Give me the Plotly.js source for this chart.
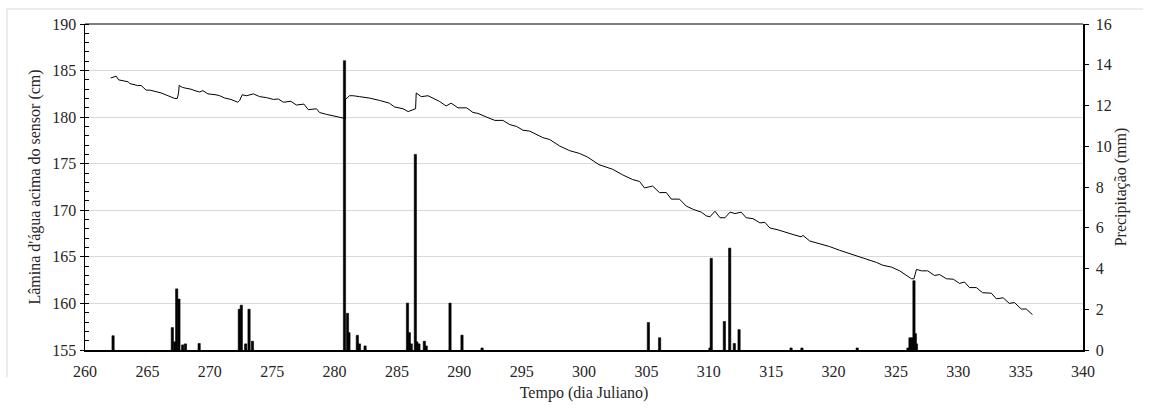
<!DOCTYPE html>
<html>
<head>
<meta charset="utf-8">
<script src="https://cdn.plot.ly/plotly-3.0.1.min.js"></script>
<style>html,body{margin:0;padding:0;background:#fff;}#chart{width:1151px;height:412px;}</style>
</head>
<body>
<div id="chart"></div>
<script>
// Water level above sensor (cm) by Julian day
const levelDay = [
  262.06, 262.3, 262.5, 262.7, 263.0, 263.45, 263.6, 263.85, 264.2, 264.5,
  264.9, 265.2, 265.6, 266.1, 266.65, 267.0, 267.2, 267.4, 267.5, 267.55,
  267.8, 268.1, 268.5, 268.9, 269.2, 269.45, 269.85, 270.5, 270.8, 271.2,
  271.7, 272.25, 272.4, 272.6, 272.95, 273.5, 274.0, 274.55, 275.1, 275.5,
  275.9, 276.5, 276.95, 277.55, 277.9, 278.55, 278.8, 279.35, 280.15, 280.7,
  280.85, 280.88, 281.2, 281.5, 282.0, 282.8, 283.6, 284.4, 284.8, 285.5,
  285.9, 286.3, 286.5, 286.55, 286.95, 287.5, 288.4, 288.95, 289.35, 289.9,
  290.6, 291.1, 291.5, 292.2, 292.85, 293.5, 294.05, 294.6, 295.1, 295.65,
  296.2, 296.7, 297.25, 298.05, 298.85, 299.65, 300.3, 301.2, 302.3, 303.1,
  303.9, 304.45, 304.85, 305.5, 306.05, 306.6, 307.0, 307.65, 308.2, 308.75,
  309.4, 309.8, 310.1, 310.5, 310.9, 311.3, 311.7, 312.1, 312.6, 313.0,
  313.55, 314.1, 314.5, 314.9, 315.55, 316.2, 316.75, 317.4, 317.55, 318.1,
  318.9, 319.7, 320.5, 321.3, 322.1, 322.65, 323.45, 323.95, 324.65, 325.3,
  325.85, 326.25, 326.45, 326.65, 327.05, 327.55, 328.1, 328.5, 329.05, 329.6,
  330.1, 330.5, 330.9, 331.45, 331.95, 332.65, 333.05, 333.6, 334.1, 334.5,
  335.05, 335.45, 335.95
];
const levelCm = [
  184.2, 184.3, 184.4, 184.0, 183.9, 183.8, 183.6, 183.5, 183.4, 183.4,
  182.9, 182.9, 182.8, 182.6, 182.3, 182.1, 182.0, 182.0, 182.6, 183.4,
  183.2, 183.1, 183.0, 182.8, 182.7, 182.85, 182.5, 182.4, 182.3, 182.05,
  181.9, 181.6, 181.8, 182.4, 182.3, 182.5, 182.2, 182.1, 181.9, 181.95,
  181.6, 181.7, 181.3, 181.4, 180.8, 180.9, 180.5, 180.3, 180.1, 179.9,
  179.8, 181.9, 182.3, 182.3, 182.2, 182.05, 181.8, 181.5, 181.1, 180.9,
  180.6, 180.8, 180.9, 182.6, 182.2, 182.3, 181.7, 181.2, 181.5, 181.0,
  181.0, 180.5, 180.4, 180.0, 179.65, 179.65, 179.2, 179.0, 178.6, 178.5,
  178.1, 177.8, 177.6, 176.9, 176.4, 176.1, 175.7, 174.9, 174.4, 173.8,
  173.3, 173.1, 172.4, 172.6, 171.9, 171.9, 171.2, 171.2, 170.45, 170.1,
  169.8, 169.4, 169.3, 169.9, 169.2, 169.2, 169.8, 169.65, 169.8, 169.2,
  169.1, 168.65, 168.7, 168.1, 167.9, 167.6, 167.4, 167.15, 167.3, 166.7,
  166.4, 166.1, 165.7, 165.35, 165.0, 164.8, 164.4, 164.1, 163.9, 163.5,
  163.0, 162.65, 162.65, 163.65, 163.5, 163.5, 163.0, 163.1, 162.65, 162.6,
  162.15, 162.3, 161.7, 161.7, 161.15, 161.1, 160.5, 160.6, 160.0, 160.1,
  159.4, 159.4, 158.8
];
// Precipitation (mm) by Julian day
const rainDay = [
  262.25, 267.0, 267.2, 267.35, 267.53, 267.83, 268.05, 269.15, 272.37, 272.53,
  272.88, 273.15, 273.42, 280.8, 281.04, 281.16, 281.83, 282.0, 282.45, 285.85,
  286.0, 286.15, 286.48, 286.6, 286.77, 287.2, 287.35, 289.26, 290.22, 291.83,
  305.16, 306.06, 310.1, 310.2, 311.25, 311.68, 312.05, 312.43, 316.6, 317.47,
  321.9, 325.97, 326.13, 326.3, 326.45, 326.56, 326.65
];
const rainMm = [
  0.7, 1.1, 0.4, 3.0, 2.5, 0.25, 0.3, 0.32, 2.0, 2.2,
  0.3, 2.0, 0.43, 14.2, 1.8, 0.85, 0.72, 0.3, 0.2, 2.3,
  0.85, 0.3, 9.6, 0.4, 0.3, 0.43, 0.2, 2.3, 0.73, 0.1,
  1.35, 0.6, 0.1, 4.5, 1.4, 5.0, 0.32, 1.0, 0.1, 0.1,
  0.1, 0.1, 0.6, 0.6, 3.4, 0.8, 0.3
];

const FONT = 'Liberation Serif';
const TXT = '#262626';
const FS = 16;
const tf = () => ({family: FONT, size: FS, color: TXT});

const traces = [
  {
    type: 'scatter', mode: 'lines', x: levelDay, y: levelCm, yaxis: 'y',
    line: {color: '#000', width: 1}, hoverinfo: 'skip', showlegend: false
  },
  {
    type: 'bar', x: rainDay, y: rainMm, yaxis: 'y2', width: 0.18,
    marker: {color: '#000', line: {color: '#000', width: 0.6}},
    hoverinfo: 'skip', showlegend: false
  }
];

const layout = {
  width: 1151, height: 412,
  margin: {l: 85, r: 68, t: 24, b: 62},
  paper_bgcolor: '#fff', plot_bgcolor: '#fff',
  font: tf(),
  showlegend: false,
  bargap: 0,
  xaxis: {
    range: [260, 340], tickmode: 'linear', tick0: 260, dtick: 5,
    showgrid: false, zeroline: false, showline: true, linecolor: '#000', linewidth: 2,
    ticks: 'outside', ticklen: 6, tickcolor: 'rgba(0,0,0,0)', automargin: false,
    tickfont: tf(),
    title: {text: 'Tempo (dia Juliano)', standoff: 8, font: tf()}
  },
  yaxis: {
    range: [155, 190], tickmode: 'linear', tick0: 155, dtick: 5,
    showgrid: true, gridcolor: '#d9d9d9', gridwidth: 1, zeroline: false,
    showline: true, linecolor: '#000', linewidth: 1.5,
    ticks: 'outside', ticklen: 4, tickcolor: '#000', tickwidth: 1,
    minor: {dtick: 1, ticks: 'inside', ticklen: 4, tickcolor: '#000', tickwidth: 1, showgrid: false},
    automargin: false,
    tickfont: tf(),
    title: {text: "Lâmina d'água acima do sensor (cm)", standoff: 7, font: tf()}
  },
  yaxis2: {
    overlaying: 'y', side: 'right', range: [0, 16], tickmode: 'linear', tick0: 0, dtick: 2,
    showgrid: false, zeroline: false, showline: true, linecolor: '#000', linewidth: 1.5,
    ticks: 'outside', ticklen: 4, tickcolor: '#000', tickwidth: 1,
    tickprefix: '\u00a0', automargin: false,
    tickfont: tf(),
    title: {text: 'Precipitação (mm)', standoff: 4, font: tf()}
  },
  shapes: [
    {type: 'line', xref: 'paper', yref: 'paper', x0: 0, x1: 1, y0: 1, y1: 1, line: {color: '#000', width: 1.2}},
    {type: 'line', xref: 'paper', yref: 'paper', x0: -0.0782, x1: 1.0601, y0: 1.0459, y1: 1.0459, line: {color: '#d9d9d9', width: 1}},
    {type: 'line', xref: 'paper', yref: 'paper', x0: -0.0782, x1: -0.0782, y0: 1.0459, y1: -0.0842, line: {color: '#d9d9d9', width: 1}}
  ]
};

Plotly.newPlot('chart', traces, layout, {displayModeBar: false, staticPlot: true});
</script>
</body>
</html>
